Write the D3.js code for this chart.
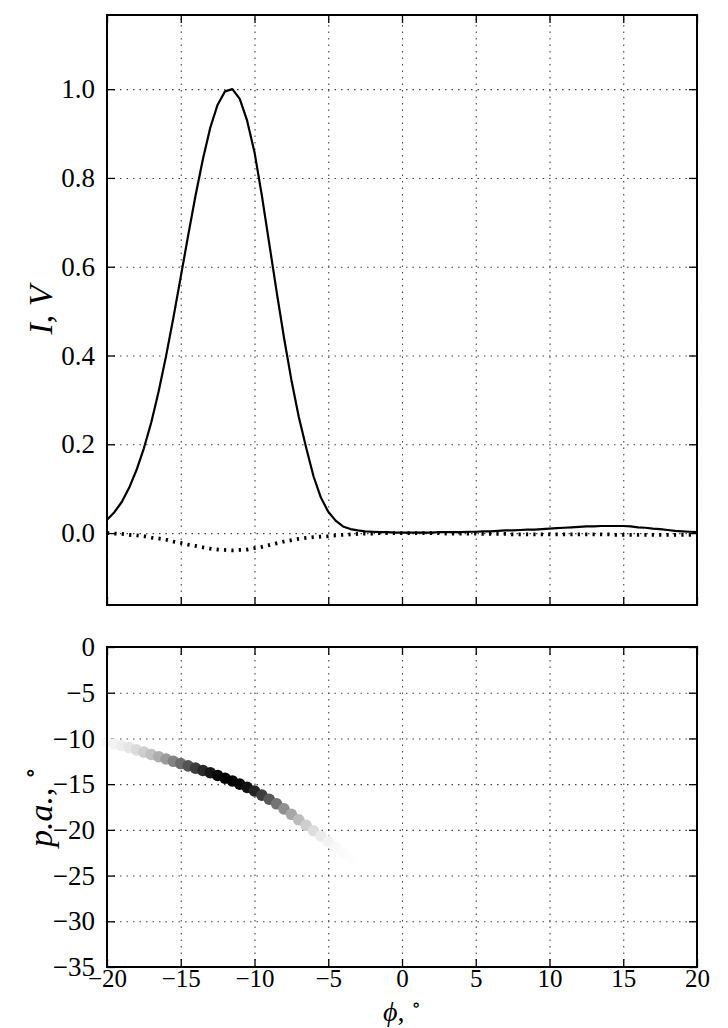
<!DOCTYPE html>
<html>
<head>
<meta charset="utf-8">
<script src="https://cdn.jsdelivr.net/npm/d3@7"></script>
<style>
  body { margin: 0; background: #fff; }
</style>
</head>
<body>
<svg id="chart" width="728" height="1028"></svg>
<script>
// phase longitude, degrees
const phi = [
  -20, -19.5, -19, -18.5, -18, -17.5, -17, -16.5, -16, -15.5,
  -15, -14.5, -14, -13.5, -13, -12.5, -12, -11.5, -11, -10.5,
  -10, -9.5, -9, -8.5, -8, -7.5, -7, -6.5, -6, -5.5,
  -5, -4.5, -4, -3.5, -3, -2.5, -2, -1.5, -1, -0.5,
  0, 0.5, 1, 1.5, 2, 2.5, 3, 3.5, 4, 4.5,
  5, 5.5, 6, 6.5, 7, 7.5, 8, 8.5, 9, 9.5,
  10, 10.5, 11, 11.5, 12, 12.5, 13, 13.5, 14, 14.5,
  15, 15.5, 16, 16.5, 17, 17.5, 18, 18.5, 19, 19.5, 20
];

// total intensity
const I = [
  0.030, 0.047, 0.070, 0.102, 0.142, 0.191, 0.249, 0.319, 0.398, 0.485,
  0.577, 0.670, 0.760, 0.842, 0.913, 0.965, 0.995, 1.000, 0.978, 0.929,
  0.858, 0.760, 0.652, 0.544, 0.440, 0.345, 0.262, 0.193, 0.128, 0.080,
  0.048, 0.028, 0.015, 0.009, 0.006, 0.004, 0.003, 0.002, 0.002, 0.001,
  0.001, 0.001, 0.001, 0.001, 0.001, 0.002, 0.002, 0.002, 0.002, 0.003,
  0.003, 0.004, 0.004, 0.005, 0.006, 0.006, 0.007, 0.008, 0.008, 0.009,
  0.010, 0.011, 0.012, 0.013, 0.014, 0.015, 0.015, 0.016, 0.016, 0.016,
  0.016, 0.015, 0.013, 0.012, 0.010, 0.009, 0.007, 0.005, 0.004, 0.003, 0.002
];

// circular polarisation
const V = [
  0.000, -0.001, -0.002, -0.004, -0.005, -0.007, -0.010, -0.012, -0.015, -0.019,
  -0.022, -0.026, -0.029, -0.032, -0.035, -0.037, -0.038, -0.039, -0.038, -0.037,
  -0.034, -0.031, -0.027, -0.023, -0.019, -0.016, -0.013, -0.011, -0.009, -0.008,
  -0.007, -0.005, -0.004, -0.003, -0.002, -0.001, -0.001, 0.000, 0.000, 0.000,
  0.000, 0.000, 0.000, 0.000, 0.000, 0.000, -0.001, -0.001, -0.001, -0.001,
  -0.001, -0.002, -0.002, -0.002, -0.002, -0.003, -0.003, -0.003, -0.003, -0.003,
  -0.003, -0.003, -0.003, -0.003, -0.003, -0.003, -0.003, -0.003, -0.003, -0.004,
  -0.004, -0.004, -0.004, -0.004, -0.004, -0.004, -0.004, -0.004, -0.004, -0.004, -0.004
];

// position angle, for the first phi samples
const pa = [
  -10.4, -10.6, -10.8, -11.0, -11.25, -11.5, -11.75, -12.0, -12.25, -12.5,
  -12.75, -13.0, -13.25, -13.5, -13.75, -14.05, -14.35, -14.65, -15.0, -15.35,
  -15.75, -16.2, -16.65, -17.15, -17.7, -18.3, -18.9, -19.5, -20.1, -20.7,
  -21.3, -21.9, -22.5, -23.1
];

const xTicks = [-20, -15, -10, -5, 0, 5, 10, 15, 20];
const yTicksTop = [0.0, 0.2, 0.4, 0.6, 0.8, 1.0];
const yTicksBottom = [0, -5, -10, -15, -20, -25, -30, -35];

const serif = "'Liberation Serif', 'DejaVu Serif', serif";
const svg = d3.select("#chart");
const left = 107, right = 697;
const top1 = 15, bot1 = 605;
const top2 = 647, bot2 = 967;

const x = d3.scaleLinear().domain([-20, 20]).range([left, right]);
const y1 = d3.scaleLinear().domain([-0.162, 1.167]).range([bot1, top1]);
const y2 = d3.scaleLinear().domain([-35, 0]).range([bot2, top2]);

const fmtMinus = s => s.replace("-", "\u2212");

const drawPanel = (yScale, yTicks, yTop, yBot, showX, yFmt) => {
    const g = svg.append("g");
    const w = right - left, h = yBot - yTop;

    // dotted grid
    g.append("g")
     .attr("transform", `translate(0,${yBot})`)
     .call(d3.axisBottom(x).tickValues(xTicks).tickSize(-h).tickFormat(""))
     .call(a => a.select(".domain").remove())
     .selectAll("line")
     .attr("class", "grid")
     .attr("stroke", "#444").attr("stroke-width", 1.1).attr("stroke-dasharray", "1.5,5");
    g.append("g")
     .attr("transform", `translate(${left},0)`)
     .call(d3.axisLeft(yScale).tickValues(yTicks).tickSize(-w).tickFormat(""))
     .call(a => a.select(".domain").remove())
     .selectAll("line")
     .attr("class", "grid")
     .attr("stroke", "#444").attr("stroke-width", 1.1).attr("stroke-dasharray", "1.5,5");

    // inward ticks on all four sides
    const tick = 8;
    const bottomAx = g.append("g")
     .attr("transform", `translate(0,${yBot})`)
     .call(d3.axisBottom(x).tickValues(xTicks).tickSizeInner(-tick).tickSizeOuter(0)
           .tickPadding(2).tickFormat(showX ? d => fmtMinus(d3.format("d")(d)) : ""));
    g.append("g")
     .attr("transform", `translate(0,${yTop})`)
     .call(d3.axisTop(x).tickValues(xTicks).tickSizeInner(-tick).tickSizeOuter(0).tickFormat(""));
    const leftAx = g.append("g")
     .attr("transform", `translate(${left},0)`)
     .call(d3.axisLeft(yScale).tickValues(yTicks).tickSizeInner(-tick).tickSizeOuter(0)
           .tickPadding(12).tickFormat(yFmt));
    g.append("g")
     .attr("transform", `translate(${right},0)`)
     .call(d3.axisRight(yScale).tickValues(yTicks).tickSizeInner(-tick).tickSizeOuter(0).tickFormat(""));

    g.selectAll(".domain").remove();
    g.selectAll(".tick line:not(.grid)")
     .attr("stroke", "#000").attr("stroke-width", 1.3);
    leftAx.selectAll("text").style("font-size", "27px");
    bottomAx.selectAll("text").style("font-size", "25px");
    [bottomAx, leftAx].forEach(a => a.selectAll("text")
        .style("font-family", serif)
        .attr("fill", "#000"));

    return g;
};

const frame = (yTop, yBot) => {
    svg.append("rect")
       .attr("x", left).attr("y", yTop)
       .attr("width", right - left).attr("height", yBot - yTop)
       .attr("fill", "none").attr("stroke", "#000").attr("stroke-width", 2);
};

// ---- top panel: I and V profiles
drawPanel(y1, yTicksTop, top1, bot1, false, d3.format(".1f"));

svg.append("clipPath").attr("id", "clip1")
   .append("rect").attr("x", left).attr("y", top1)
   .attr("width", right - left).attr("height", bot1 - top1);

const line = vals => d3.line()
    .x((_, i) => x(phi[i]))
    .y(d => y1(d))(vals);

svg.append("path")
   .attr("d", line(V))
   .attr("clip-path", "url(#clip1)")
   .attr("fill", "none")
   .attr("stroke", "#000")
   .attr("stroke-width", 3.8)
   .attr("stroke-dasharray", "2.2,5.2");

svg.append("path")
   .attr("d", line(I))
   .attr("clip-path", "url(#clip1)")
   .attr("fill", "none")
   .attr("stroke", "#000")
   .attr("stroke-width", 2.2)
   .attr("stroke-linejoin", "round");

frame(top1, bot1);

// ---- bottom panel: position angle shaded by intensity
drawPanel(y2, yTicksBottom, top2, bot2, true, d => fmtMinus(d3.format("d")(d)));

const grey = d3.scaleLinear().domain([0, 1]).range(["#ffffff", "#000000"]);

svg.append("g")
   .selectAll("circle")
   .data(pa)
   .enter()
   .append("circle")
   .attr("cx", (_, i) => x(phi[i]))
   .attr("cy", d => y2(d))
   .attr("r", 5.8)
   .attr("fill", (_, i) => grey(I[i]));

frame(top2, bot2);

// ---- axis labels
const label = (sel, size) => sel.style("font-family", serif).style("font-size", size + "px")
                               .attr("text-anchor", "middle").attr("fill", "#000");

label(svg.append("text"), 34)
   .attr("transform", `translate(52,${(top1 + bot1) / 2}) rotate(-90)`)
   .html('<tspan font-style="italic">I</tspan>, <tspan font-style="italic">V</tspan>');

label(svg.append("text"), 34)
   .attr("transform", `translate(52,${(top2 + bot2) / 2}) rotate(-90)`)
   .html('<tspan font-style="italic">p.a.</tspan>, <tspan style="font-size:24px" dy="-14">\u2218</tspan>');

label(svg.append("text"), 28)
   .attr("x", (left + right) / 2)
   .attr("y", 1021)
   .html('<tspan font-style="italic">\u03d5</tspan>, <tspan style="font-size:19px" dy="-10">\u2218</tspan>');
</script>
</body>
</html>
